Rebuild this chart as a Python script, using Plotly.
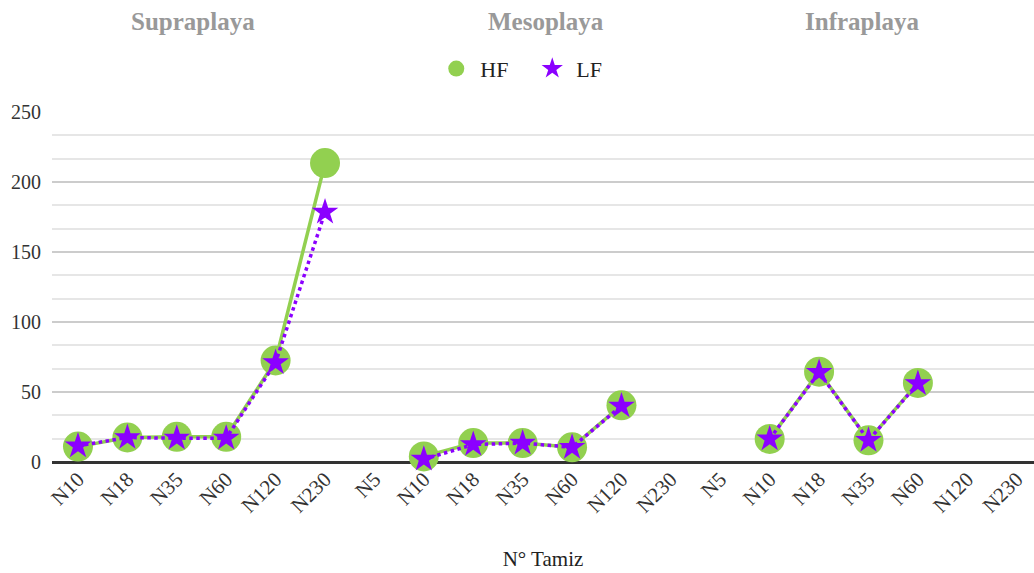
import plotly.graph_objects as go

# Sieve labels along the x axis, three beach zones in sequence
tick_labels = ["N10", "N18", "N35", "N60", "N120", "N230", "N5",
               "N10", "N18", "N35", "N60", "N120", "N230", "N5",
               "N10", "N18", "N35", "N60", "N120", "N230"]
zones = ["Supraplaya", "Mesoplaya", "Infraplaya"]

hf = [11, 17.5, 18, 18, 72.5, 213.5, None,
      4, 13.5, 13.5, 10.5, 40.5, None, None,
      16.5, 64.5, 15.5, 56.5, None, None]
lf = [11.5, 17.5, 17, 17, 71, 178.5, None,
      2, 12.5, 13.5, 10.5, 40, None, None,
      16.5, 64, 15.5, 56, None, None]

x = list(range(len(tick_labels)))
serif = "Liberation Serif, Times New Roman, serif"
green = "#92D050"
purple = "#8B00FF"

fig = go.Figure()
fig.add_trace(go.Scatter(
    x=x, y=hf, name="HF", mode="lines+markers", showlegend=False,
    line=dict(color=green, width=3.5),
    marker=dict(symbol="circle", size=30, color=green),
    connectgaps=False, cliponaxis=False,
))
fig.add_trace(go.Scatter(
    x=x, y=lf, name="LF", mode="lines+markers", showlegend=False,
    line=dict(color=purple, width=3.5, dash="dot"),
    marker=dict(symbol="star", size=20, color=purple),
    connectgaps=False, cliponaxis=False,
))
# Legend entries show the marker symbol only
fig.add_trace(go.Scatter(x=[None], y=[None], name="HF", mode="markers",
                         marker=dict(symbol="circle", size=22, color=green)))
fig.add_trace(go.Scatter(x=[None], y=[None], name="LF", mode="markers",
                         marker=dict(symbol="star", size=21, color=purple)))

# Zone headings above the plot
zone_x = [193, 546, 862]
for name, px in zip(zones, zone_x):
    fig.add_annotation(
        text=f"<b>{name}</b>", xref="paper", yref="paper",
        x=(px - 52) / (1034 - 52), y=1, yshift=91, showarrow=False,
        font=dict(family=serif, size=25, color="#999999"),
        xanchor="center", yanchor="middle",
    )

fig.update_layout(
    width=1034, height=573,
    margin=dict(l=52, r=0, t=112, b=111),
    plot_bgcolor="white", paper_bgcolor="white",
    font=dict(family=serif, size=20, color="#333333"),
    showlegend=True,
    legend=dict(orientation="h", x=0.485, xanchor="center", y=0.88, yanchor="middle",
                yref="container", itemsizing="trace", itemwidth=38,
                entrywidth=43, entrywidthmode="pixels",
                font=dict(family=serif, size=22, color="#222222")),
    xaxis=dict(
        tickmode="array", tickvals=x, ticktext=tick_labels,
        range=[-0.526, 19.35], tickangle=-45,
        tickfont=dict(family=serif, size=21, color="#333333"),
        showgrid=False, zeroline=False, showline=False, ticks="",
        title=dict(text="N° Tamiz", font=dict(family=serif, size=21, color="#222222"),
                   standoff=34),
    ),
    yaxis=dict(
        range=[0, 250], tick0=0, dtick=50,
        tickfont=dict(family=serif, size=20, color="#333333"),
        showgrid=True, gridcolor="#cccccc", gridwidth=1.5,
        minor=dict(dtick=50 / 3, tick0=0, showgrid=True, gridcolor="#e6e6e6", gridwidth=1.5),
        zeroline=True, zerolinecolor="#333333", zerolinewidth=2.5,
        showline=False, ticks="", ticklabelstandoff=10,
    ),
)

fig.write_html("out.html")
